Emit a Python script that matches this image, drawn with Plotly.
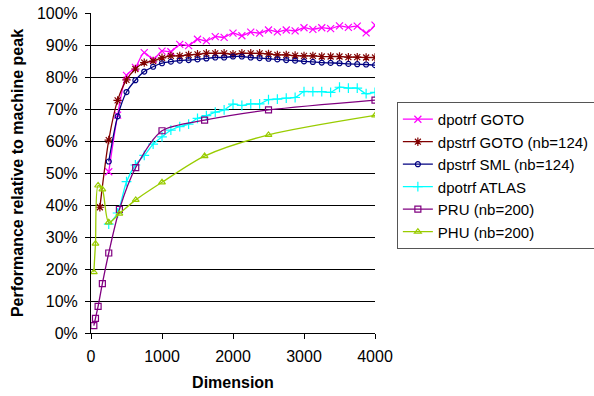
import plotly.graph_objects as go

# ---- data (percent of machine peak) ----
goto_x = [250, 375, 500, 625, 750, 875, 1000, 1125, 1250, 1375, 1500, 1625, 1750, 1875, 2000,
          2125, 2250, 2375, 2500, 2625, 2750, 2875, 3000, 3125, 3250, 3375, 3500, 3625, 3750, 3875, 4000]
dpotrf_goto = [50.4, 68.1, 80.5, 83.0, 87.6, 85.5, 88.1, 87.9, 90.2, 89.8, 91.8, 91.3, 92.6, 92.4, 93.7,
               92.9, 94.0, 93.7, 94.7, 94.1, 94.7, 94.4, 95.4, 94.9, 95.4, 95.1, 96.0, 95.5, 95.9, 93.8, 96.2]

dpstrf_goto_x = [125] + goto_x
dpstrf_goto = [39.3, 60.3, 72.7, 79.1, 82.5, 84.5, 85.0, 86.0, 86.6, 86.6, 86.9, 87.1, 87.4, 87.4, 87.4, 87.1,
               87.4, 87.4, 87.4, 87.2, 86.9, 86.9, 86.7, 86.6, 86.6, 86.4, 86.4, 86.4, 86.2, 86.2, 86.1, 86.1]

dpstrf_sml = [53.6, 67.7, 75.3, 79.0, 81.7, 83.2, 84.3, 84.8, 85.1, 85.3, 85.5, 85.8, 86.1, 86.1, 86.4,
              86.4, 86.1, 85.9, 85.7, 85.5, 85.3, 85.1, 84.9, 84.7, 84.5, 84.4, 84.3, 84.1, 84.0, 83.9, 83.7]

dpotrf_atlas = [34.0, 37.5, 47.3, 52.5, 55.5, 59.0, 61.3, 63.4, 64.5, 65.3, 67.1, 67.9, 69.0, 69.7, 71.5,
                71.1, 71.6, 71.6, 72.9, 73.1, 73.4, 73.6, 75.4, 75.4, 75.4, 75.2, 76.8, 76.5, 76.5, 74.8, 75.2]

p_x = [40, 63, 100, 160, 250, 400, 630, 1000, 1600, 2500, 4000]
pru = [2.3, 4.6, 8.3, 15.4, 25.0, 38.6, 51.7, 63.2, 66.5, 69.7, 72.8]
phu = [19.0, 27.9, 46.1, 44.9, 34.6, 37.3, 41.6, 47.1, 55.3, 61.9, 68.0]

x_ticks = [0, 1000, 2000, 3000, 4000]
y_ticks = list(range(0, 101, 10))

FONT = "Liberation Sans, Arial, sans-serif"

series = [
    ("dpotrf GOTO", goto_x, dpotrf_goto, "#FF00FF", "x-thin-open", 7),
    ("dpstrf GOTO (nb=124)", dpstrf_goto_x, dpstrf_goto, "#800000", "asterisk-open", 7),
    ("dpstrf SML (nb=124)", goto_x, dpstrf_sml, "#000080", "circle-open", 5),
    ("dpotrf ATLAS", goto_x, dpotrf_atlas, "#00FFFF", "cross-thin-open", 7),
    ("PRU (nb=200)", p_x, pru, "#800080", "square-open", 6),
    ("PHU (nb=200)", p_x, phu, "#99CC00", "triangle-up-open", 6),
]

fig = go.Figure()
for name, xs, ys, col, sym, sz in series:
    fig.add_trace(go.Scatter(
        x=xs, y=ys, name=name, mode="lines+markers",
        line=dict(color=col, width=1.3, shape="spline", smoothing=0.8),
        marker=dict(symbol=sym, size=sz, color=col, line=dict(color=col, width=1.2)),
    ))

fig.update_layout(
    width=594, height=396,
    margin=dict(l=91, r=219, t=13, b=63, autoexpand=False),
    paper_bgcolor="white", plot_bgcolor="white",
    font=dict(family=FONT, size=16, color="black"),
    showlegend=True,
    legend=dict(
        x=1.077, y=0.722, xanchor="left", yanchor="top",
        bordercolor="#555555", borderwidth=1, bgcolor="white",
        font=dict(family=FONT, size=15, color="black"),
        itemwidth=30, tracegroupgap=0,
    ),
)
fig.update_xaxes(
    range=[0, 4000], tickvals=x_ticks, ticktext=[str(v) for v in x_ticks],
    showline=True, linecolor="black", linewidth=1,
    ticks="outside", ticklen=5, tickcolor="black", showgrid=False, zeroline=False,
    ticklabelstandoff=4,
    title=dict(text="<b>Dimension</b>", font=dict(family=FONT, size=16), standoff=12),
)
fig.update_yaxes(
    range=[0, 100], tickvals=y_ticks, ticktext=[f"{v}%" for v in y_ticks],
    showline=True, linecolor="black", linewidth=1,
    ticks="outside", ticklen=5, tickcolor="black",
    showgrid=True, gridcolor="black", gridwidth=1, zeroline=False,
    ticklabelstandoff=4,
    title=dict(text="<b>Performance relative to machine peak</b>", font=dict(family=FONT, size=16), standoff=9),
)

fig.write_html("out.html")
